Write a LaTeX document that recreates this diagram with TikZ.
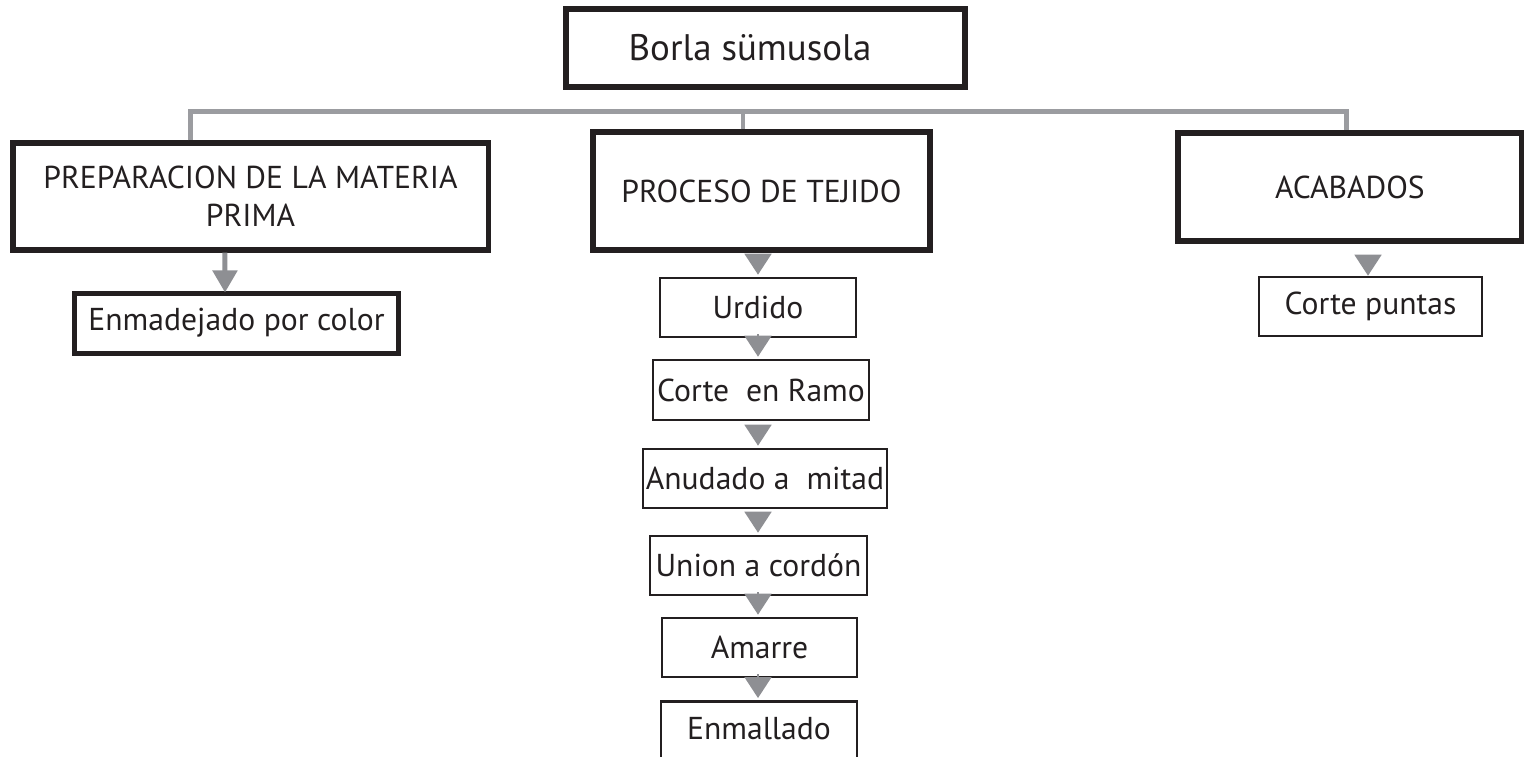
\documentclass[tikz,border=0pt]{standalone}
\usepackage{fontspec}
\setmainfont{PT Sans}
\usetikzlibrary{arrows.meta,positioning}
\definecolor{inkblack}{RGB}{35,31,32}
\definecolor{bargray}{RGB}{155,156,160}
\definecolor{tipgray}{RGB}{142,143,147}
\tikzset{
  mainbox/.style={draw=inkblack, line width=1.5pt, text=inkblack, align=center, inner sep=0pt,
    font=\fontsize{9}{10.8}\selectfont},
  stepbox/.style={draw=inkblack, line width=0.75pt, text=inkblack, inner sep=0pt,
    font=\fontsize{9}{10.8}\selectfont},
  bar/.style={draw=bargray, line width=1.42pt},
  tri/.style={draw=tipgray, line width=0.5pt, -{Triangle[length=0.21cm,width=0.27cm]},
    shorten <=0.04cm, shorten >=0.02cm},
  shaftarrow/.style={draw=tipgray, line width=1.42pt, -{Triangle[length=0.22cm,width=0.24cm]},
    shorten >=-0.02cm}
}
\begin{document}
\begin{tikzpicture}[x=0.01cm,y=-0.01cm]
\useasboundingbox (0,0) rectangle (1524,756);
% title
\node[mainbox, line width=1.7pt, minimum width=3.99cm, minimum height=0.78cm,
  font=\fontsize{10.5}{13}\selectfont] (title) at (765.5,48) {Borla sümusola\hspace{0.31cm}};
% three branches
\node[mainbox, minimum width=4.75cm, minimum height=1.07cm] (prep) at (250.5,196.5) {PREPARACION DE LA MATERIA\\PRIMA};
\node[mainbox, minimum width=3.37cm, minimum height=1.18cm] (proc) at (761.5,191) {PROCESO DE TEJIDO};
\node[mainbox, minimum width=3.44cm, minimum height=1.08cm] (acab) at (1350,187) {\raisebox{-0.06cm}{ACABADOS}};
% steps
\node[stepbox, line width=1.42pt, minimum width=3.23cm, minimum height=0.60cm] (enm) at (236.5,323) {Enmadejado por color};
\node[stepbox, minimum width=1.96cm, minimum height=0.59cm] (urd) at (758,307.5) {Urdido};
\node[stepbox, minimum width=2.16cm, minimum height=0.60cm] (ramo) at (761,390) {Corte~ en Ramo};
\node[stepbox, minimum width=2.44cm, minimum height=0.59cm] (anud) at (765,478.5) {Anudado a~ mitad};
\node[stepbox, minimum width=2.17cm, minimum height=0.59cm] (union) at (758.5,565.5) {Union a cordón};
\node[stepbox, minimum width=1.95cm, minimum height=0.59cm] (amarre) at (759.5,647.5) {Amarre};
\node[stepbox, minimum width=1.96cm, minimum height=0.62cm, anchor=north] (enmall) at (759,700) {\raisebox{0.08cm}{Enmallado}};
\node[stepbox, minimum width=2.23cm, minimum height=0.59cm] (cut) at (1370.5,306.5) {Corte puntas};
% tree bar
\coordinate (bus) at (0,111);
\coordinate (lt) at ([xshift=-0.595cm]prep.north);
\coordinate (mt) at ([xshift=-0.185cm]proc.north);
\coordinate (rt) at ([xshift=-0.04cm]acab.north);
\draw[bar] (lt) -- (lt |- bus) -- (rt |- bus) -- (rt);
\draw[bar] (mt) -- (mt |- bus);
% arrows
\draw[shaftarrow] ([xshift=-0.255cm]prep.south) -- ([xshift=-0.115cm]enm.north);
\coordinate (col) at (758,0);
\draw[tri] (proc.south -| col) -- (urd.north -| col);
\draw[tri] (urd.south -| col) -- (ramo.north -| col);
\draw[tri] (ramo.south -| col) -- (anud.north -| col);
\draw[tri] (anud.south -| col) -- (union.north -| col);
\draw[tri] (union.south -| col) -- (amarre.north -| col);
\draw[tri] (amarre.south -| col) -- (enmall.north -| col);
\coordinate (rcol) at (1368,0);
\draw[tri, shorten <=0.15cm, shorten >=0cm] (acab.south -| rcol) -- (cut.north -| rcol);
\end{tikzpicture}
\end{document}
